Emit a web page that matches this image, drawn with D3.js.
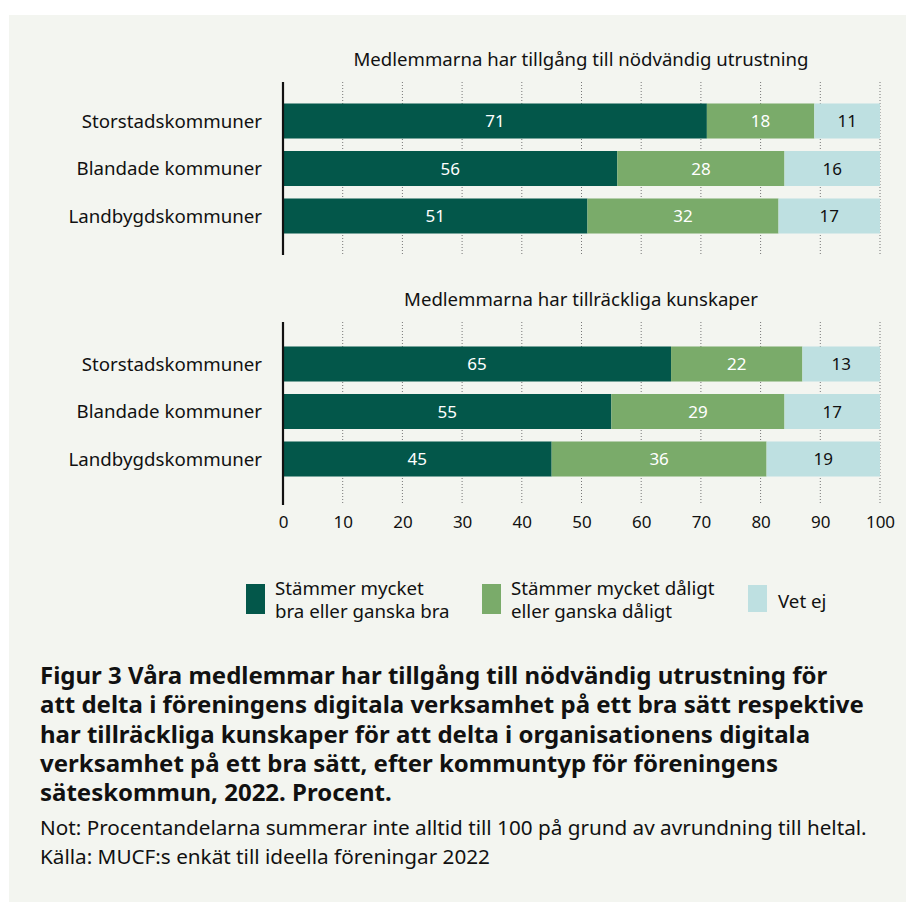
<!DOCTYPE html>
<html>
<head>
<meta charset="utf-8">
<script src="https://cdn.jsdelivr.net/npm/d3@7"></script>
<style>
  body { margin: 0; background: #fff; }
  text { font-family: "Noto Sans", sans-serif; }
</style>
</head>
<body>
<svg width="906" height="902"></svg>
<script>
var categories = ["Storstadskommuner", "Blandade kommuner", "Landbygdskommuner"];
var seriesNames = ["Stämmer mycket bra eller ganska bra", "Stämmer mycket dåligt eller ganska dåligt", "Vet ej"];
var panelTitles = ["Medlemmarna har tillgång till nödvändig utrustning", "Medlemmarna har tillräckliga kunskaper"];
// values per panel: [bra, dåligt, vet ej] for each category
var utrustning = [[71, 18, 11], [56, 28, 16], [51, 32, 17]];
var kunskaper = [[65, 22, 13], [55, 29, 17], [45, 36, 19]];
var xTicks = [0, 10, 20, 30, 40, 50, 60, 70, 80, 90, 100];
var captionLines = [
  "Figur 3 Våra medlemmar har tillgång till nödvändig utrustning för",
  "att delta i föreningens digitala verksamhet på ett bra sätt respektive",
  "har tillräckliga kunskaper för att delta i organisationens digitala",
  "verksamhet på ett bra sätt, efter kommuntyp för föreningens",
  "säteskommun, 2022. Procent."
];
var note = "Not: Procentandelarna summerar inte alltid till 100 på grund av avrundning till heltal.";
var source = "Källa: MUCF:s enkät till ideella föreningar 2022";

var colors = ["#03574a", "#7aab6a", "#bee0e1"];
var labelColors = ["#fff", "#fff", "#111"];

var svg = d3.select("svg");

svg.append("rect")
    .attr("x", 9).attr("y", 15)
    .attr("width", 897).attr("height", 887)
    .attr("fill", "#f3f5f0");

var x = d3.scaleLinear().domain([0, 100]).range([283, 880]);

var panels = [
  {title: panelTitles[0], data: utrustning, titleY: 66, axisTop: 82, axisBottom: 255, bandTop: 82},
  {title: panelTitles[1], data: kunskaper, titleY: 306, axisTop: 322, axisBottom: 505, bandTop: 325}
];

panels.forEach(function(p) {
  var y = d3.scaleBand()
      .domain(categories)
      .range([p.bandTop, p.bandTop + 173])
      .paddingInner(0.263)
      .paddingOuter(0.4526);

  var g = svg.append("g");

  g.append("text")
      .attr("x", 581).attr("y", p.titleY)
      .attr("text-anchor", "middle")
      .attr("font-size", "18.6px")
      .attr("fill", "#111")
      .text(p.title);

  // dotted gridlines
  g.selectAll("line.grid")
    .data(xTicks.slice(1))
    .enter().append("line")
      .attr("class", "grid")
      .attr("x1", function(d) { return x(d); })
      .attr("x2", function(d) { return x(d); })
      .attr("y1", p.axisTop).attr("y2", p.axisBottom)
      .attr("stroke", "#777")
      .attr("stroke-width", 1)
      .attr("stroke-dasharray", "1,2");

  var rows = categories.map(function(c, i) {
    var start = 0;
    return p.data[i].map(function(v, k) {
      var seg = {cat: c, k: k, v: v, x0: start, x1: start + v};
      start += v;
      return seg;
    });
  });

  var row = g.selectAll("g.row")
    .data(rows)
    .enter().append("g")
      .attr("class", "row");

  row.selectAll("rect")
    .data(function(d) { return d; })
    .enter().append("rect")
      .attr("x", function(d) { return x(d.x0); })
      .attr("y", function(d) { return y(d.cat); })
      .attr("width", function(d) { return x(Math.min(d.x1, 100)) - x(d.x0); })
      .attr("height", y.bandwidth())
      .attr("fill", function(d) { return colors[d.k]; });

  row.selectAll("text")
    .data(function(d) { return d; })
    .enter().append("text")
      .attr("x", function(d) { return (x(d.x0) + x(Math.min(d.x1, 100))) / 2; })
      .attr("y", function(d) { return y(d.cat) + y.bandwidth() / 2; })
      .attr("dy", "0.36em")
      .attr("text-anchor", "middle")
      .attr("font-size", "17px")
      .attr("fill", function(d) { return labelColors[d.k]; })
      .text(function(d) { return d.v; });

  g.selectAll("text.cat")
    .data(categories)
    .enter().append("text")
      .attr("class", "cat")
      .attr("x", 262)
      .attr("y", function(d) { return y(d) + y.bandwidth() / 2; })
      .attr("dy", "0.36em")
      .attr("text-anchor", "end")
      .attr("font-size", "18.7px")
      .attr("fill", "#111")
      .text(function(d) { return d; });

  g.append("line")
      .attr("x1", x(0)).attr("x2", x(0))
      .attr("y1", p.axisTop).attr("y2", p.axisBottom)
      .attr("stroke", "#111")
      .attr("stroke-width", 2.2);
});

// x axis labels
var xAxis = d3.axisBottom(x).tickValues(xTicks).tickSize(0).tickPadding(0);
var axisG = svg.append("g")
    .attr("transform", "translate(0,516)")
    .call(xAxis);
axisG.select(".domain").remove();
axisG.selectAll("text")
    .attr("font-family", "Noto Sans, sans-serif")
    .attr("font-size", "17px")
    .attr("fill", "#111");

// legend
var legendItems = [
  {k: 0, x: 246, lines: ["Stämmer mycket", "bra eller ganska bra"]},
  {k: 1, x: 482, lines: ["Stämmer mycket dåligt", "eller ganska dåligt"]},
  {k: 2, x: 748, lines: ["Vet ej"]}
];
var leg = svg.selectAll("g.legend")
  .data(legendItems)
  .enter().append("g")
    .attr("class", "legend")
    .attr("transform", function(d) { return "translate(" + d.x + ",0)"; });
leg.append("rect")
    .attr("x", 0).attr("y", function(d) { return d.k === 2 ? 585 : 584; })
    .attr("width", 19)
    .attr("height", function(d) { return d.k === 2 ? 27 : 30; })
    .attr("fill", function(d) { return colors[d.k]; });
leg.each(function(d) {
  var t = d3.select(this).append("text")
      .attr("font-size", "18.7px")
      .attr("fill", "#111");
  if (d.lines.length === 1) {
    t.append("tspan").attr("x", 30).attr("y", 608).text(d.lines[0]);
  } else {
    d.lines.forEach(function(l, i) {
      t.append("tspan").attr("x", 29).attr("y", 595 + i * 22.5).text(l);
    });
  }
});

// caption
svg.append("g").selectAll("text")
  .data(captionLines)
  .enter().append("text")
    .attr("x", 40)
    .attr("y", function(d, i) { return 684 + i * 29.3; })
    .attr("font-size", "24px")
    .attr("font-weight", "bold")
    .attr("fill", "#111")
    .text(function(d) { return d; });

svg.append("text")
    .attr("x", 40).attr("y", 835)
    .attr("font-size", "20.7px")
    .attr("fill", "#111")
    .text(note);
svg.append("text")
    .attr("x", 40).attr("y", 864)
    .attr("font-size", "20.7px")
    .attr("fill", "#111")
    .text(source);
</script>
</body>
</html>
